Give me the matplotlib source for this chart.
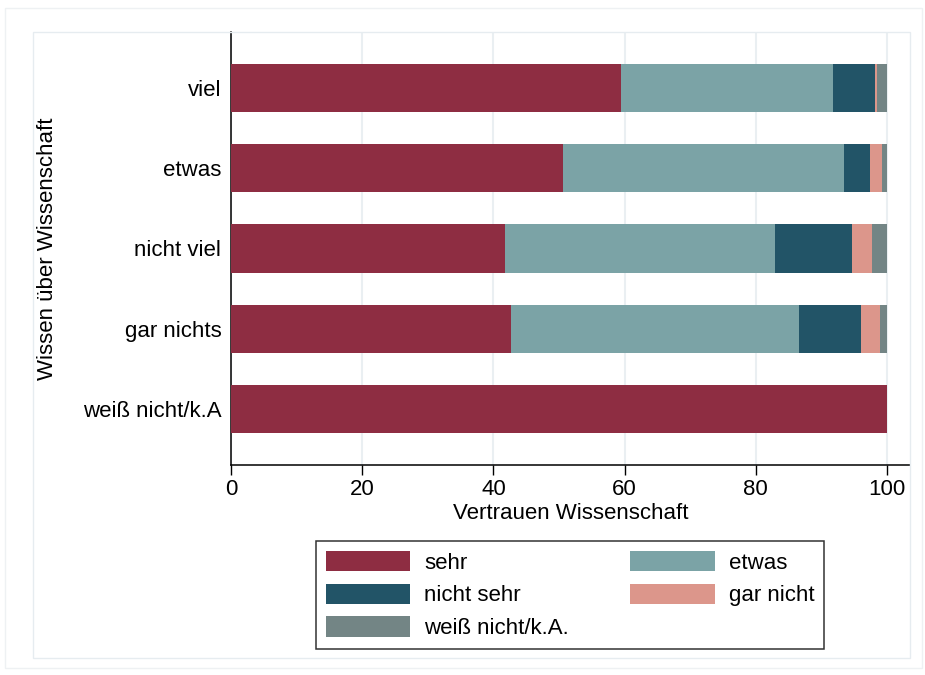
import matplotlib.pyplot as plt
from matplotlib.patches import Rectangle
import numpy as np

plt.rcParams['font.family'] = ['Liberation Sans', 'DejaVu Sans']

# Wissen über Wissenschaft (Zeilen), Anteile Vertrauen in Prozent
gruppen = ['viel', 'etwas', 'nicht viel', 'gar nichts', 'weiß nicht/k.A']
sehr = [59.5, 50.6, 41.7, 42.7, 100.0]
etwas = [32.3, 42.8, 41.2, 43.9, 0.0]
nicht_sehr = [6.3, 4.0, 11.7, 9.4, 0.0]
gar_nicht = [0.4, 1.9, 3.1, 3.0, 0.0]
weiss_nicht = [1.5, 0.7, 2.3, 1.0, 0.0]

serien = [
    ('sehr', sehr, '#8e2d42'),
    ('etwas', etwas, '#7ba3a6'),
    ('nicht sehr', nicht_sehr, '#225467'),
    ('gar nicht', gar_nicht, '#dc968b'),
    ('weiß nicht/k.A.', weiss_nicht, '#738585'),
]

fs = 16

fig = plt.figure(figsize=(9.25, 6.75), dpi=100)
ax = fig.add_axes([231 / 925, 1 - 465 / 675, (910 - 231) / 925, (465 - 32) / 675])

# helle Rahmen um Grafik- und Plotbereich
fig.patches.append(Rectangle((5 / 925, 1 - 668 / 675), 917 / 925, 660 / 675,
                             transform=fig.transFigure, fill=False,
                             ec='#eef1f3', lw=1))
fig.patches.append(Rectangle((33 / 925, 1 - 658 / 675), 877 / 925, 626 / 675,
                             transform=fig.transFigure, fill=False,
                             ec='#e6ecf0', lw=1))

y = np.arange(len(gruppen))
links = np.zeros(len(gruppen))
handles = {}
for name, werte, farbe in serien:
    werte = np.array(werte)
    b = ax.barh(y, werte, left=links, height=0.6, color=farbe, label=name,
                zorder=3)
    handles[name] = b
    links = links + werte

ax.set_xlim(0, 103.5)
ax.set_ylim(len(gruppen) - 0.3, -0.7)
ax.set_xticks([0, 20, 40, 60, 80, 100])
ax.set_yticks(y)
ax.set_yticklabels(gruppen)
ax.grid(axis='x', color='#eaeff2', lw=1.5, zorder=0)
ax.tick_params(axis='x', length=7, width=1, labelsize=fs, pad=3)
ax.tick_params(axis='y', length=0, labelsize=fs, pad=7)

for s in ['top', 'right']:
    ax.spines[s].set_visible(False)
ax.spines['left'].set_linewidth(1.1)
ax.spines['bottom'].set_linewidth(1.1)

ax.set_xlabel('Vertrauen Wissenschaft', fontsize=fs, labelpad=2)
ax.set_ylabel('Wissen über Wissenschaft', fontsize=fs, labelpad=18)

reihenfolge = ['sehr', 'nicht sehr', 'weiß nicht/k.A.', 'etwas', 'gar nicht']
leg = fig.legend([handles[n] for n in reihenfolge], reihenfolge, ncol=2,
                 loc='center', bbox_to_anchor=(570 / 925, 1 - 595 / 675),
                 fontsize=fs, frameon=True, fancybox=False, edgecolor='black',
                 handlelength=3.8, handleheight=1.04, handletextpad=0.63,
                 columnspacing=2.75, labelspacing=0.45, borderpad=0.45)
leg.get_frame().set_linewidth(1.1)

fig.savefig('out.png', dpi=100)
